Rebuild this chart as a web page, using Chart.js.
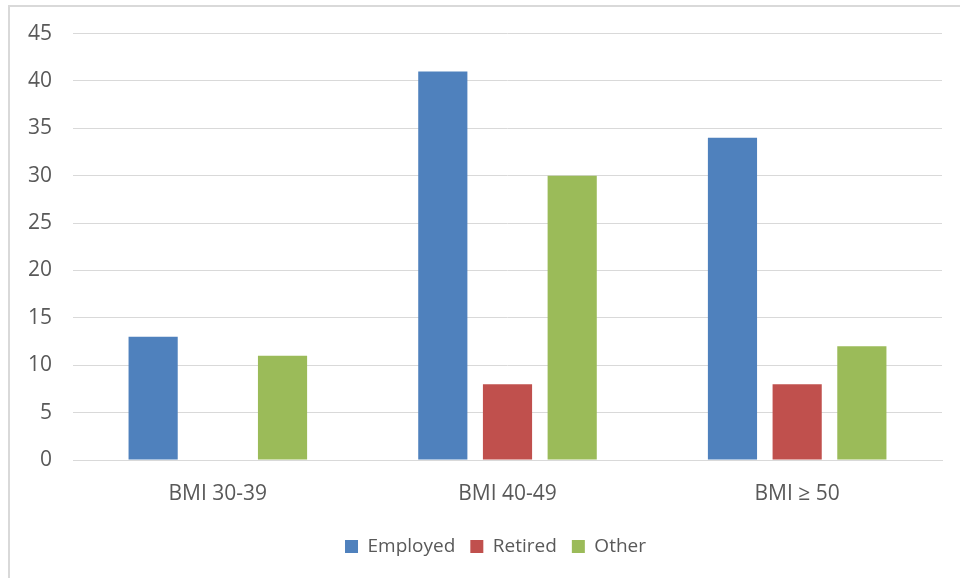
<!DOCTYPE html>
<html>
<head>
<meta charset="utf-8">
<script src="https://cdn.jsdelivr.net/npm/chart.js@4/dist/chart.umd.min.js"></script>
<style>
  html, body { margin: 0; padding: 0; background: #ffffff; overflow: hidden; }
  #wrap { position: absolute; left: 0; top: 0; width: 960px; height: 578px; }
  #frame {
    position: absolute; left: 8px; top: 5px; width: 1000px; height: 1000px;
    border-left: 2px solid #d9d9d9; border-top: 2px solid #d9d9d9;
    pointer-events: none; box-sizing: border-box;
  }
</style>
</head>
<body>
<div id="wrap"><canvas id="c" width="960" height="578"></canvas></div>
<div id="frame"></div>
<script>
// BMI groups and counts by employment status
const categories = ['BMI 30-39', 'BMI 40-49', 'BMI \u2265 50'];
const employed = [13, 41, 34];
const retired = [0, 8, 8];
const other = [11, 30, 12];
const yTicks = [0, 5, 10, 15, 20, 25, 30, 35, 40, 45];

const textColor = '#595959';
const gridColor = '#d9d9d9';
const font = { family: '"Open Sans", "Liberation Sans", sans-serif', size: 21 };

// Center the legend under the plot area instead of the whole canvas
const legendShift = {
  id: 'legendShift',
  afterLayout(chart) {
    const lg = chart.legend;
    if (!lg) return;
    const mid = (chart.chartArea.left + chart.chartArea.right) / 2 - 12;
    const cur = (lg.left + lg.right) / 2;
    lg.left += mid - cur;
    lg.right += mid - cur;
  }
};

new Chart(document.getElementById('c'), {
  type: 'bar',
  data: {
    labels: categories,
    datasets: [
      { label: 'Employed', data: employed, backgroundColor: '#4f81bd' },
      { label: 'Retired', data: retired, backgroundColor: '#c0504d' },
      { label: 'Other', data: other, backgroundColor: '#9bbb59' }
    ]
  },
  plugins: [legendShift],
  options: {
    responsive: false,
    animation: false,
    events: [],
    layout: { padding: { top: 30, right: 18, bottom: 12, left: 14 } },
    datasets: { bar: { categoryPercentage: 0.67, barPercentage: 0.76, borderWidth: 0 } },
    plugins: {
      tooltip: { enabled: false },
      legend: {
        position: 'bottom',
        labels: {
          color: textColor,
          font: { family: font.family, size: 19 },
          boxWidth: 13,
          boxHeight: 13,
          padding: 15
        }
      }
    },
    scales: {
      x: {
        afterFit: (axis) => { axis.height = 62; },
        grid: { display: false, drawTicks: false },
        border: { display: true, color: gridColor, width: 1 },
        ticks: { color: textColor, font: font, padding: 21 }
      },
      y: {
        min: 0,
        max: yTicks[yTicks.length - 1],
        afterBuildTicks: (axis) => { axis.ticks = yTicks.map(v => ({ value: v })); },
        afterFit: (axis) => { axis.width = 59; },
        grid: { color: gridColor, lineWidth: 1, drawTicks: false },
        border: { display: false },
        ticks: { color: textColor, font: font, padding: 21 }
      }
    }
  }
});
</script>
</body>
</html>
